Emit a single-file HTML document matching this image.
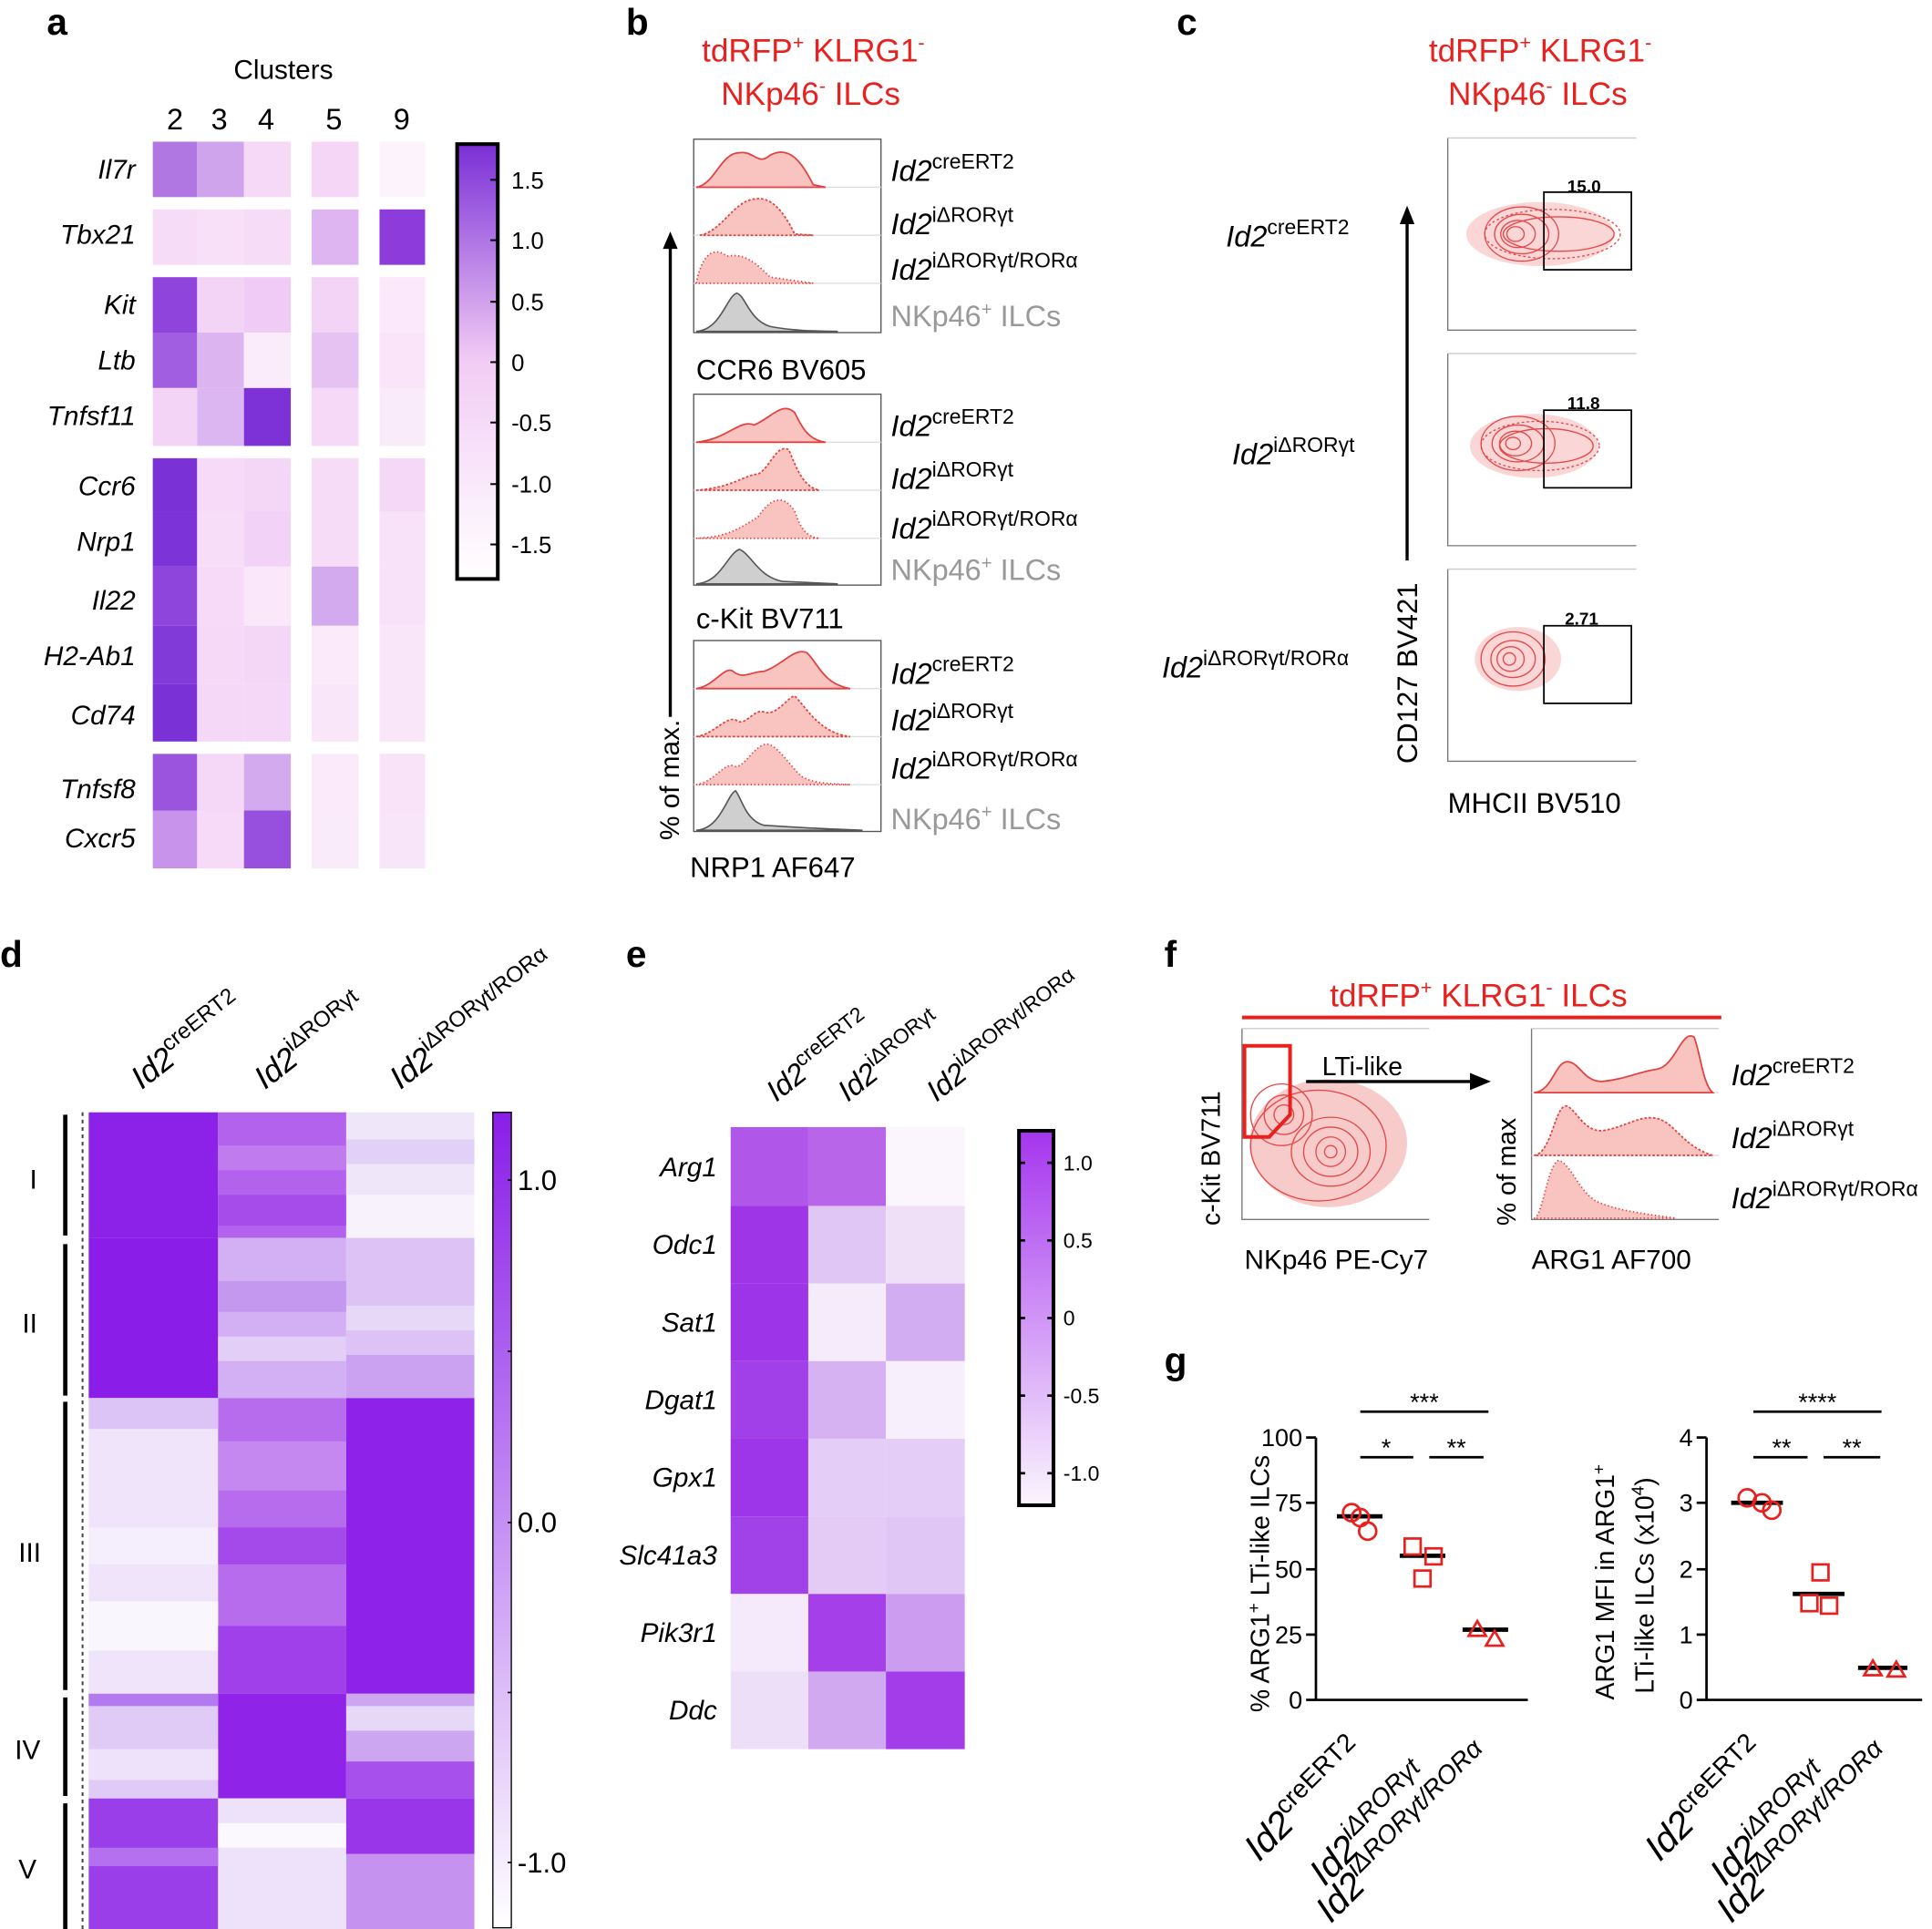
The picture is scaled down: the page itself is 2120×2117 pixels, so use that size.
<!DOCTYPE html>
<html><head><meta charset="utf-8"><style>
html,body{margin:0;padding:0;background:#fff}
svg{display:block}
text{font-family:"Liberation Sans",sans-serif}
.it{font-style:italic}
</style></head><body>
<svg width="2120" height="2117" viewBox="0 0 1568 1566" preserveAspectRatio="none" xmlns="http://www.w3.org/2000/svg">
<defs>
<linearGradient id="ga" x1="0" y1="0" x2="0" y2="1"><stop offset="0" stop-color="#7a2fd6"/><stop offset="0.5" stop-color="#f2ccf5"/><stop offset="1" stop-color="#fff"/></linearGradient>
<linearGradient id="gd" x1="0" y1="0" x2="0" y2="1"><stop offset="0" stop-color="#8a1ee8"/><stop offset="1" stop-color="#fff"/></linearGradient>
<linearGradient id="ge" x1="0" y1="0" x2="0" y2="1"><stop offset="0" stop-color="#a535ee"/><stop offset="1" stop-color="#fbf5fe"/></linearGradient>
</defs>
<g font-weight="bold" font-size="30">
<text x="38" y="28">a</text><text x="508" y="28">b</text><text x="955" y="28">c</text>
<text x="0" y="785">d</text><text x="508" y="785">e</text><text x="945" y="785">f</text><text x="945" y="1115">g</text>
</g>
<!-- panel a -->
<text x="230" y="64" font-size="22" text-anchor="middle">Clusters</text>
<g font-size="24" text-anchor="middle"><text x="142" y="105">2</text><text x="178" y="105">3</text><text x="216" y="105">4</text><text x="271" y="105">5</text><text x="326" y="105">9</text></g>
<g>
<rect x="124" y="115" width="36" height="45" fill="#b077e2"/><rect x="160" y="115" width="38" height="45" fill="#d0a4ec"/><rect x="198" y="115" width="38" height="45" fill="#f6d8f7"/><rect x="253" y="115" width="38" height="45" fill="#f6d6f7"/><rect x="308" y="115" width="37" height="45" fill="#fdf3fc"/>
<rect x="124" y="170" width="36" height="45" fill="#f7dcf8"/><rect x="160" y="170" width="38" height="45" fill="#f7e0f8"/><rect x="198" y="170" width="38" height="45" fill="#f6dcf7"/><rect x="253" y="170" width="38" height="45" fill="#deb5f0"/><rect x="308" y="170" width="37" height="45" fill="#8d3cdb"/>
<rect x="124" y="225" width="36" height="45" fill="#8f44dc"/><rect x="160" y="225" width="38" height="45" fill="#f3d3f6"/><rect x="198" y="225" width="38" height="45" fill="#efcbf5"/><rect x="253" y="225" width="38" height="45" fill="#f3d3f6"/><rect x="308" y="225" width="37" height="45" fill="#fbe8fa"/>
<rect x="124" y="270" width="36" height="45" fill="#a25ee0"/><rect x="160" y="270" width="38" height="45" fill="#dbb4f0"/><rect x="198" y="270" width="38" height="45" fill="#fbecfb"/><rect x="253" y="270" width="38" height="45" fill="#e6c2f3"/><rect x="308" y="270" width="37" height="45" fill="#f9e4f9"/>
<rect x="124" y="315" width="36" height="47" fill="#f3d3f6"/><rect x="160" y="315" width="38" height="47" fill="#dcb6f0"/><rect x="198" y="315" width="38" height="47" fill="#7c32d7"/><rect x="253" y="315" width="38" height="47" fill="#f6d9f7"/><rect x="308" y="315" width="37" height="47" fill="#faebfa"/>
<rect x="124" y="372" width="36" height="43" fill="#7a31d6"/><rect x="160" y="372" width="38" height="43" fill="#f6daf7"/><rect x="198" y="372" width="38" height="43" fill="#f4d7f7"/><rect x="253" y="372" width="38" height="43" fill="#f7dcf8"/><rect x="308" y="372" width="37" height="43" fill="#f5d8f7"/>
<rect x="124" y="415" width="36" height="45" fill="#7c33d7"/><rect x="160" y="415" width="38" height="45" fill="#f7ddf8"/><rect x="198" y="415" width="38" height="45" fill="#f2d2f6"/><rect x="253" y="415" width="38" height="45" fill="#f7dcf8"/><rect x="308" y="415" width="37" height="45" fill="#f8e2f9"/>
<rect x="124" y="460" width="36" height="48" fill="#8e45db"/><rect x="160" y="460" width="38" height="48" fill="#f6daf7"/><rect x="198" y="460" width="38" height="48" fill="#fae8fa"/><rect x="253" y="460" width="38" height="48" fill="#d4aaee"/><rect x="308" y="460" width="37" height="48" fill="#f8e2f9"/>
<rect x="124" y="508" width="36" height="47" fill="#8139d8"/><rect x="160" y="508" width="38" height="47" fill="#f5d9f7"/><rect x="198" y="508" width="38" height="47" fill="#f4d6f7"/><rect x="253" y="508" width="38" height="47" fill="#faeafa"/><rect x="308" y="508" width="37" height="47" fill="#f9e6f9"/>
<rect x="124" y="555" width="36" height="47" fill="#7a31d6"/><rect x="160" y="555" width="38" height="47" fill="#f5d8f7"/><rect x="198" y="555" width="38" height="47" fill="#f5d8f7"/><rect x="253" y="555" width="38" height="47" fill="#f9e6f9"/><rect x="308" y="555" width="37" height="47" fill="#f9e6f9"/>
<rect x="124" y="612" width="36" height="46" fill="#9a54de"/><rect x="160" y="612" width="38" height="46" fill="#f5d8f7"/><rect x="198" y="612" width="38" height="46" fill="#d4aaee"/><rect x="253" y="612" width="38" height="46" fill="#faeafa"/><rect x="308" y="612" width="37" height="46" fill="#f8e3f9"/>
<rect x="124" y="658" width="36" height="47" fill="#c893ea"/><rect x="160" y="658" width="38" height="47" fill="#f6daf7"/><rect x="198" y="658" width="38" height="47" fill="#9750dd"/><rect x="253" y="658" width="38" height="47" fill="#faebfa"/><rect x="308" y="658" width="37" height="47" fill="#f9e5f9"/>
</g>
<g font-size="22" class="it" text-anchor="end">
<text x="110" y="145">Il7r</text><text x="110" y="198">Tbx21</text><text x="110" y="255">Kit</text><text x="110" y="300">Ltb</text><text x="110" y="345">Tnfsf11</text>
<text x="110" y="402">Ccr6</text><text x="110" y="447">Nrp1</text><text x="110" y="495">Il22</text><text x="110" y="540">H2-Ab1</text><text x="110" y="588">Cd74</text>
<text x="110" y="648">Tnfsf8</text><text x="110" y="688">Cxcr5</text>
</g>
<rect x="371" y="117" width="33" height="353" fill="url(#ga)" stroke="#000" stroke-width="3"/>
<g font-size="19"><text x="415" y="153">1.5</text><text x="415" y="202">1.0</text><text x="415" y="252">0.5</text><text x="415" y="301">0</text><text x="415" y="350">-0.5</text><text x="415" y="400">-1.0</text><text x="415" y="449">-1.5</text></g>
<g stroke="#000" stroke-width="1.5"><line x1="398" y1="146" x2="404" y2="146"/><line x1="398" y1="195" x2="404" y2="195"/><line x1="398" y1="245" x2="404" y2="245"/><line x1="398" y1="294" x2="404" y2="294"/><line x1="398" y1="343" x2="404" y2="343"/><line x1="398" y1="393" x2="404" y2="393"/><line x1="398" y1="442" x2="404" y2="442"/></g>

<!-- panel b -->
<g fill="#e8201e" font-size="26" text-anchor="middle"><text x="660" y="50">tdRFP<tspan font-size="16" dy="-10">+</tspan><tspan dy="10"> KLRG1</tspan><tspan font-size="16" dy="-10">-</tspan></text><text x="658" y="85">NKp46<tspan font-size="16" dy="-10">-</tspan><tspan dy="10"> ILCs</tspan></text></g>
<g stroke="#555" stroke-width="1" fill="none">
<rect x="563" y="113" width="152" height="157"/><rect x="563" y="320" width="152" height="155"/><rect x="563" y="520" width="152" height="155"/>
</g>
<g stroke="#ddd" stroke-width="1"><line x1="563" y1="152" x2="715" y2="152"/><line x1="563" y1="191" x2="715" y2="191"/><line x1="563" y1="230" x2="715" y2="230"/>
<line x1="563" y1="359" x2="715" y2="359"/><line x1="563" y1="398" x2="715" y2="398"/><line x1="563" y1="437" x2="715" y2="437"/>
<line x1="563" y1="559" x2="715" y2="559"/><line x1="563" y1="598" x2="715" y2="598"/><line x1="563" y1="637" x2="715" y2="637"/></g>
<g fill="#f9c4c0" stroke="#e34040" stroke-width="1.3">
<path d="M565 152 C580 150 585 124 600 124 C612 122 615 135 625 126 C640 118 650 130 660 150 L670 152 Z"/>
<path d="M568 191 C585 188 595 165 610 162 C625 158 635 170 645 190 L660 191 Z" stroke-dasharray="2,1.5"/>
<path d="M565 230 C570 205 580 200 590 208 C605 205 615 215 625 225 L660 230 Z" stroke-dasharray="1,2"/>
<path d="M565 359 C590 357 600 340 612 345 C625 340 635 325 645 335 C650 345 655 357 670 359 Z"/>
<path d="M565 398 C595 396 605 385 615 385 C625 380 630 360 640 365 C645 375 650 395 665 398 Z" stroke-dasharray="2,1.5"/>
<path d="M565 437 C595 436 605 425 615 420 C625 405 635 400 645 415 C650 430 655 436 665 437 Z" stroke-dasharray="1,2"/>
<path d="M565 559 C580 557 588 540 595 545 C603 552 610 545 620 545 C635 540 645 525 655 530 C665 540 668 555 690 559 Z"/>
<path d="M565 598 C580 596 590 580 598 585 C605 590 612 575 620 578 C630 582 640 565 645 565 C655 575 665 595 690 598 Z" stroke-dasharray="2,1.5"/>
<path d="M565 637 C580 635 588 618 596 622 C603 625 612 605 622 604 C630 604 640 620 650 630 C660 636 670 636 690 637 Z" stroke-dasharray="1,2"/>
</g>
<g fill="#cfcfcf" stroke="#555" stroke-width="1.2">
<path d="M565 269 C585 268 590 240 598 238 C605 240 608 260 625 265 C640 268 660 269 680 269 Z"/>
<path d="M565 474 C585 473 590 450 600 446 C610 450 615 468 635 472 L680 474 Z"/>
<path d="M565 674 C585 673 590 645 597 642 C602 648 605 666 620 670 C650 672 670 673 700 674 Z"/>
</g>
<g font-size="24"><g fill="#000">
<text x="723" y="147" class="it">Id2<tspan font-size="17" dy="-10" font-style="normal">creERT2</tspan></text>
<text x="723" y="190" class="it">Id2<tspan font-size="17" dy="-10" font-style="normal">iΔRORγt</tspan></text>
<text x="723" y="227" class="it">Id2<tspan font-size="17" dy="-10" font-style="normal">iΔRORγt/RORα</tspan></text>
<text x="723" y="354" class="it">Id2<tspan font-size="17" dy="-10" font-style="normal">creERT2</tspan></text>
<text x="723" y="397" class="it">Id2<tspan font-size="17" dy="-10" font-style="normal">iΔRORγt</tspan></text>
<text x="723" y="437" class="it">Id2<tspan font-size="17" dy="-10" font-style="normal">iΔRORγt/RORα</tspan></text>
<text x="723" y="555" class="it">Id2<tspan font-size="17" dy="-10" font-style="normal">creERT2</tspan></text>
<text x="723" y="593" class="it">Id2<tspan font-size="17" dy="-10" font-style="normal">iΔRORγt</tspan></text>
<text x="723" y="632" class="it">Id2<tspan font-size="17" dy="-10" font-style="normal">iΔRORγt/RORα</tspan></text>
</g><g fill="#999">
<text x="723" y="265">NKp46<tspan font-size="15" dy="-9">+</tspan><tspan dy="9"> ILCs</tspan></text>
<text x="723" y="471">NKp46<tspan font-size="15" dy="-9">+</tspan><tspan dy="9"> ILCs</tspan></text>
<text x="723" y="673">NKp46<tspan font-size="15" dy="-9">+</tspan><tspan dy="9"> ILCs</tspan></text>
</g>
<text x="565" y="308" font-size="23">CCR6 BV605</text><text x="565" y="510" font-size="23">c-Kit BV711</text><text x="560" y="712" font-size="23">NRP1 AF647</text>
<text transform="translate(551,682) rotate(-90)" font-size="22">% of max.</text>
</g>
<line x1="544" y1="582" x2="544" y2="200" stroke="#000" stroke-width="2.5"/><path d="M538 202 L544 188 L550 202 Z"/>

<!-- panel c -->
<g fill="#e8201e" font-size="26" text-anchor="middle"><text x="1250" y="50">tdRFP<tspan font-size="16" dy="-10">+</tspan><tspan dy="10"> KLRG1</tspan><tspan font-size="16" dy="-10">-</tspan></text><text x="1248" y="85">NKp46<tspan font-size="16" dy="-10">-</tspan><tspan dy="10"> ILCs</tspan></text></g>
<g stroke="#777" stroke-width="1" fill="none"><path d="M1175 112 V268 H1328"/><path d="M1175 287 V443 H1328"/><path d="M1175 462 V618 H1328"/>
<line x1="1175" y1="112" x2="1328" y2="112" stroke="#ccc"/><line x1="1175" y1="287" x2="1328" y2="287" stroke="#ccc"/><line x1="1175" y1="462" x2="1328" y2="462" stroke="#ccc"/></g>
<g fill="#fbd6d6">
<ellipse cx="1250" cy="190" rx="60" ry="26"/><ellipse cx="1245" cy="362" rx="52" ry="26"/><ellipse cx="1232" cy="535" rx="35" ry="26"/>
</g>
<g fill="none" stroke="#e64848" stroke-width="1">
<ellipse cx="1235" cy="190" rx="30" ry="22"/><ellipse cx="1235" cy="190" rx="22" ry="16"/><ellipse cx="1232" cy="190" rx="14" ry="11"/><ellipse cx="1230" cy="190" rx="7" ry="6"/><ellipse cx="1265" cy="190" rx="45" ry="14"/><ellipse cx="1260" cy="190" rx="55" ry="20" stroke-dasharray="2,2"/>
<ellipse cx="1232" cy="360" rx="30" ry="22"/><ellipse cx="1232" cy="360" rx="21" ry="15"/><ellipse cx="1230" cy="360" rx="13" ry="10"/><ellipse cx="1228" cy="360" rx="6" ry="5"/><ellipse cx="1255" cy="362" rx="38" ry="14"/><ellipse cx="1250" cy="362" rx="48" ry="20" stroke-dasharray="2,2"/>
<ellipse cx="1228" cy="535" rx="26" ry="22"/><ellipse cx="1228" cy="535" rx="18" ry="15"/><ellipse cx="1226" cy="535" rx="11" ry="10"/><ellipse cx="1225" cy="535" rx="5" ry="5"/>
</g>
<g fill="none" stroke="#000" stroke-width="1.3"><rect x="1253" y="156" width="71" height="63"/><rect x="1253" y="333" width="71" height="63"/><rect x="1253" y="508" width="71" height="63"/></g>
<g font-size="14" font-weight="bold"><text x="1272" y="156">15.0</text><text x="1272" y="332">11.8</text><text x="1270" y="507">2.71</text></g>
<g font-size="24" class="it">
<text x="995" y="200">Id2<tspan font-size="17" dy="-10" font-style="normal">creERT2</tspan></text>
<text x="1000" y="377">Id2<tspan font-size="17" dy="-10" font-style="normal">iΔRORγt</tspan></text>
<text x="943" y="550">Id2<tspan font-size="17" dy="-10" font-style="normal">iΔRORγt/RORα</tspan></text>
</g>
<line x1="1142" y1="455" x2="1142" y2="180" stroke="#000" stroke-width="2.5"/><path d="M1136 182 L1142 167 L1148 182 Z"/>
<text transform="translate(1150,620) rotate(-90)" font-size="23">CD127 BV421</text>
<text x="1175" y="660" font-size="23">MHCII BV510</text>

<!-- panel d -->
<g font-size="26" class="it">
<text transform="translate(115,885) rotate(-38)">Id2<tspan font-size="18" dy="-11" font-style="normal">creERT2</tspan></text>
<text transform="translate(215,885) rotate(-38)">Id2<tspan font-size="18" dy="-11" font-style="normal">iΔRORγt</tspan></text>
<text transform="translate(325,885) rotate(-38)">Id2<tspan font-size="18" dy="-11" font-style="normal">iΔRORγt/RORα</tspan></text>
</g>
<g>
<rect x="72" y="903" width="105" height="102" fill="#8c22e8"/><rect x="177" y="903" width="104" height="102" fill="#b262ed"/><rect x="281" y="903" width="104" height="102" fill="#f0e6fa"/>
<rect x="177" y="930" width="104" height="20" fill="#c07cef"/><rect x="177" y="970" width="104" height="25" fill="#a64ceb"/><rect x="281" y="925" width="104" height="20" fill="#e2d0f6"/><rect x="281" y="970" width="104" height="35" fill="#f8f2fd"/>
<rect x="72" y="1005" width="105" height="130" fill="#8a1ee8"/><rect x="177" y="1005" width="104" height="130" fill="#d2b0f3"/><rect x="281" y="1005" width="104" height="130" fill="#dcc2f5"/>
<rect x="177" y="1040" width="104" height="25" fill="#c598f0"/><rect x="177" y="1085" width="104" height="20" fill="#e2cef7"/><rect x="281" y="1060" width="104" height="20" fill="#e8d8f8"/><rect x="281" y="1100" width="104" height="35" fill="#cba2f1"/>
<rect x="72" y="1135" width="105" height="240" fill="#efe4fa"/><rect x="177" y="1135" width="104" height="240" fill="#b76cee"/><rect x="281" y="1135" width="104" height="240" fill="#8e22e8"/>
<rect x="72" y="1135" width="105" height="25" fill="#dcc5f6"/><rect x="72" y="1240" width="105" height="30" fill="#f5eefc"/><rect x="72" y="1300" width="105" height="40" fill="#faf6fe"/><rect x="177" y="1240" width="104" height="30" fill="#a44aeb"/><rect x="177" y="1320" width="104" height="55" fill="#a040ea"/><rect x="177" y="1170" width="104" height="40" fill="#c488f0"/>
<rect x="72" y="1375" width="105" height="85" fill="#e0caf6"/><rect x="177" y="1375" width="104" height="85" fill="#8f24e8"/><rect x="281" y="1375" width="104" height="85" fill="#cda6f2"/>
<rect x="72" y="1375" width="105" height="10" fill="#b27aee"/><rect x="72" y="1420" width="105" height="25" fill="#eee2fa"/><rect x="281" y="1385" width="104" height="20" fill="#e8d8f8"/><rect x="281" y="1430" width="104" height="30" fill="#a850ec"/>
<rect x="72" y="1460" width="105" height="106" fill="#9a3eea"/><rect x="177" y="1460" width="104" height="106" fill="#ede2f9"/><rect x="281" y="1460" width="104" height="106" fill="#c592f0"/>
<rect x="72" y="1500" width="105" height="15" fill="#b470ee"/><rect x="177" y="1480" width="104" height="20" fill="#fbf8fe"/><rect x="281" y="1460" width="104" height="45" fill="#9a36ea"/>
</g>
<g stroke="#000" stroke-width="3.5"><line x1="53" y1="905" x2="53" y2="1003"/><line x1="53" y1="1010" x2="53" y2="1133"/><line x1="53" y1="1138" x2="53" y2="1372"/><line x1="53" y1="1378" x2="53" y2="1458"/><line x1="53" y1="1464" x2="53" y2="1566"/></g>
<line x1="67" y1="903" x2="67" y2="1566" stroke="#444" stroke-width="1.5" stroke-dasharray="3,3"/>
<g font-size="22"><text x="24" y="965">I</text><text x="18" y="1082">II</text><text x="15" y="1268">III</text><text x="12" y="1428">IV</text><text x="15" y="1525">V</text></g>
<rect x="400" y="903" width="15" height="662" fill="url(#gd)" stroke="#000" stroke-width="1"/>
<g stroke="#000" stroke-width="1.2"><line x1="412" y1="958" x2="415" y2="958"/><line x1="412" y1="1097" x2="415" y2="1097"/><line x1="412" y1="1236" x2="415" y2="1236"/><line x1="412" y1="1374" x2="415" y2="1374"/><line x1="412" y1="1512" x2="415" y2="1512"/></g>
<g font-size="23"><text x="420" y="966">1.0</text><text x="420" y="1244">0.0</text><text x="420" y="1520">-1.0</text></g>

<!-- panel e -->
<g font-size="24" class="it">
<text transform="translate(630,895) rotate(-38)">Id2<tspan font-size="17" dy="-10" font-style="normal">creERT2</tspan></text>
<text transform="translate(688,895) rotate(-38)">Id2<tspan font-size="17" dy="-10" font-style="normal">iΔRORγt</tspan></text>
<text transform="translate(760,895) rotate(-38)">Id2<tspan font-size="17" dy="-10" font-style="normal">iΔRORγt/RORα</tspan></text>
</g>
<g>
<rect x="593" y="915" width="63" height="64" fill="#b056e8"/><rect x="656" y="915" width="63" height="64" fill="#b865ea"/><rect x="719" y="915" width="64" height="64" fill="#fbf5fd"/>
<rect x="593" y="979" width="63" height="63" fill="#9e36e8"/><rect x="656" y="979" width="63" height="63" fill="#e0c6f4"/><rect x="719" y="979" width="64" height="63" fill="#efe0f8"/>
<rect x="593" y="1042" width="63" height="63" fill="#9d34e8"/><rect x="656" y="1042" width="63" height="63" fill="#f5ebfb"/><rect x="719" y="1042" width="64" height="63" fill="#d3adf1"/>
<rect x="593" y="1105" width="63" height="63" fill="#a140e8"/><rect x="656" y="1105" width="63" height="63" fill="#d6b2f2"/><rect x="719" y="1105" width="64" height="63" fill="#f7effb"/>
<rect x="593" y="1168" width="63" height="63" fill="#9d36e8"/><rect x="656" y="1168" width="63" height="63" fill="#e4cdf6"/><rect x="719" y="1168" width="64" height="63" fill="#e4cdf6"/>
<rect x="593" y="1231" width="63" height="63" fill="#a042e8"/><rect x="656" y="1231" width="63" height="63" fill="#e3cbf6"/><rect x="719" y="1231" width="64" height="63" fill="#e0c6f5"/>
<rect x="593" y="1294" width="63" height="63" fill="#f4eafb"/><rect x="656" y="1294" width="63" height="63" fill="#a43fe9"/><rect x="719" y="1294" width="64" height="63" fill="#cc9cf0"/>
<rect x="593" y="1357" width="63" height="63" fill="#eedff9"/><rect x="656" y="1357" width="63" height="63" fill="#d1a9f1"/><rect x="719" y="1357" width="64" height="63" fill="#a33ce9"/>
</g>
<g font-size="22" class="it" text-anchor="end">
<text x="582" y="955">Arg1</text><text x="582" y="1018">Odc1</text><text x="582" y="1081">Sat1</text><text x="582" y="1144">Dgat1</text><text x="582" y="1207">Gpx1</text><text x="582" y="1270">Slc41a3</text><text x="582" y="1333">Pik3r1</text><text x="582" y="1396">Ddc</text>
</g>
<rect x="827" y="918" width="28" height="304" fill="url(#ge)" stroke="#000" stroke-width="3"/>
<g stroke="#000" stroke-width="2"><line x1="827" y1="944" x2="832" y2="944"/><line x1="850" y1="944" x2="855" y2="944"/><line x1="827" y1="1007" x2="832" y2="1007"/><line x1="850" y1="1007" x2="855" y2="1007"/><line x1="827" y1="1070" x2="832" y2="1070"/><line x1="850" y1="1070" x2="855" y2="1070"/><line x1="827" y1="1133" x2="832" y2="1133"/><line x1="850" y1="1133" x2="855" y2="1133"/><line x1="827" y1="1196" x2="832" y2="1196"/><line x1="850" y1="1196" x2="855" y2="1196"/></g>
<g font-size="17"><text x="863" y="950">1.0</text><text x="863" y="1013">0.5</text><text x="863" y="1076">0</text><text x="863" y="1139">-0.5</text><text x="863" y="1202">-1.0</text></g>

<!-- panel f -->
<text x="1200" y="817" font-size="26" fill="#e8201e" text-anchor="middle">tdRFP<tspan font-size="16" dy="-10">+</tspan><tspan dy="10"> KLRG1</tspan><tspan font-size="16" dy="-10">-</tspan><tspan dy="10"> ILCs</tspan></text>
<line x1="1008" y1="826" x2="1397" y2="826" stroke="#e8201e" stroke-width="3"/>
<g stroke="#777" fill="none"><path d="M1008 835 V990 H1160"/><line x1="1008" y1="835" x2="1160" y2="835" stroke="#ccc"/><path d="M1243 835 V990 H1395"/><line x1="1243" y1="835" x2="1395" y2="835" stroke="#ccc"/></g>
<ellipse cx="1078" cy="928" rx="64" ry="52" fill="#f4a8a8" opacity="0.6"/>
<g fill="none" stroke="#e64848" stroke-width="1">
<ellipse cx="1040" cy="905" rx="25" ry="25"/><ellipse cx="1042" cy="905" rx="16" ry="16"/><ellipse cx="1042" cy="905" rx="8" ry="8"/>
<ellipse cx="1080" cy="935" rx="32" ry="28"/><ellipse cx="1080" cy="935" rx="22" ry="20"/><ellipse cx="1080" cy="935" rx="12" ry="12"/><ellipse cx="1080" cy="935" rx="5" ry="5"/>
<ellipse cx="1070" cy="930" rx="55" ry="45"/>
</g>
<path d="M1010 849 H1047 V905 L1030 923 H1010 Z" fill="none" stroke="#e8201e" stroke-width="3"/>
<line x1="1060" y1="878" x2="1195" y2="878" stroke="#000" stroke-width="2.5"/><path d="M1193 871 L1210 878 L1193 885 Z"/>
<text x="1073" y="873" font-size="21">LTi-like</text>
<text transform="translate(990,995) rotate(-90)" font-size="21">c-Kit BV711</text>
<text x="1010" y="1030" font-size="22">NKp46 PE-Cy7</text>
<g stroke="#ddd"><line x1="1243" y1="887" x2="1395" y2="887"/><line x1="1243" y1="938" x2="1395" y2="938"/></g>
<g fill="#f9c4c0" stroke="#e34040" stroke-width="1.3">
<path d="M1245 887 C1260 886 1262 862 1272 862 C1282 862 1285 878 1300 878 C1320 876 1330 870 1345 868 C1360 865 1365 835 1375 842 C1380 855 1382 880 1390 887 Z"/>
<path d="M1245 938 C1260 936 1262 895 1272 898 C1280 902 1285 918 1300 918 C1320 915 1330 905 1345 908 C1360 912 1365 930 1390 938 Z" stroke-dasharray="2,1.5"/>
<path d="M1245 989 C1252 988 1256 945 1265 942 C1275 945 1280 965 1295 975 C1310 982 1330 985 1360 989 Z" stroke-dasharray="1,2"/>
</g>
<g font-size="24" class="it">
<text x="1405" y="881">Id2<tspan font-size="17" dy="-10" font-style="normal">creERT2</tspan></text>
<text x="1405" y="932">Id2<tspan font-size="17" dy="-10" font-style="normal">iΔRORγt</tspan></text>
<text x="1405" y="981">Id2<tspan font-size="17" dy="-10" font-style="normal">iΔRORγt/RORα</tspan></text>
</g>
<text transform="translate(1230,995) rotate(-90)" font-size="21">% of max</text>
<text x="1243" y="1030" font-size="22">ARG1 AF700</text>

<!-- panel g left -->
<g stroke="#000" stroke-width="2" fill="none">
<path d="M1068 1167 V1380 H1240"/>
<line x1="1060" y1="1167" x2="1068" y2="1167"/><line x1="1060" y1="1220" x2="1068" y2="1220"/><line x1="1060" y1="1274" x2="1068" y2="1274"/><line x1="1060" y1="1327" x2="1068" y2="1327"/><line x1="1060" y1="1380" x2="1068" y2="1380"/>
<line x1="1104" y1="1146" x2="1208" y2="1146"/><line x1="1104" y1="1183" x2="1147" y2="1183"/><line x1="1160" y1="1183" x2="1204" y2="1183"/>
<line x1="1085" y1="1231" x2="1122" y2="1231" stroke-width="3.5"/><line x1="1136" y1="1263" x2="1173" y2="1263" stroke-width="3.5"/><line x1="1187" y1="1323" x2="1224" y2="1323" stroke-width="3.5"/>
</g>
<g stroke="#e8201e" stroke-width="2" fill="none">
<circle cx="1097" cy="1228" r="7"/><circle cx="1110" cy="1243" r="7"/><circle cx="1104" cy="1232" r="7"/>
<rect x="1140" y="1249" width="13" height="13"/><rect x="1148" y="1275" width="13" height="13"/><rect x="1157" y="1257" width="13" height="13"/>
<path d="M1192 1328 L1199 1316 L1206 1328 Z"/><path d="M1206 1336 L1213 1324 L1220 1336 Z"/>
</g>
<g font-size="20" text-anchor="end"><text x="1057" y="1174">100</text><text x="1057" y="1227">75</text><text x="1057" y="1281">50</text><text x="1057" y="1334">25</text><text x="1057" y="1387">0</text></g>
<g font-size="20" text-anchor="middle"><text x="1156" y="1145">***</text><text x="1125" y="1182">*</text><text x="1182" y="1182">**</text></g>
<text transform="translate(1030,1390) rotate(-90)" font-size="21">% ARG1<tspan font-size="14" dy="-8">+</tspan><tspan dy="8"> LTi-like ILCs</tspan></text>
<!-- panel g right -->
<g stroke="#000" stroke-width="2" fill="none">
<path d="M1385 1167 V1380 H1560"/>
<line x1="1377" y1="1167" x2="1385" y2="1167"/><line x1="1377" y1="1220" x2="1385" y2="1220"/><line x1="1377" y1="1274" x2="1385" y2="1274"/><line x1="1377" y1="1327" x2="1385" y2="1327"/><line x1="1377" y1="1380" x2="1385" y2="1380"/>
<line x1="1423" y1="1146" x2="1527" y2="1146"/><line x1="1423" y1="1183" x2="1467" y2="1183"/><line x1="1480" y1="1183" x2="1526" y2="1183"/>
<line x1="1405" y1="1220" x2="1447" y2="1220" stroke-width="3.5"/><line x1="1455" y1="1294" x2="1497" y2="1294" stroke-width="3.5"/><line x1="1508" y1="1354" x2="1548" y2="1354" stroke-width="3.5"/>
</g>
<g stroke="#e8201e" stroke-width="2" fill="none">
<circle cx="1418" cy="1216" r="7"/><circle cx="1430" cy="1220" r="7"/><circle cx="1438" cy="1226" r="7"/>
<rect x="1462" y="1295" width="13" height="13"/><rect x="1471" y="1270" width="13" height="13"/><rect x="1478" y="1297" width="13" height="13"/>
<path d="M1513 1360 L1520 1348 L1527 1360 Z"/><path d="M1532 1361 L1539 1349 L1546 1361 Z"/>
</g>
<g font-size="20" text-anchor="end"><text x="1374" y="1174">4</text><text x="1374" y="1227">3</text><text x="1374" y="1281">2</text><text x="1374" y="1334">1</text><text x="1374" y="1387">0</text></g>
<g font-size="20" text-anchor="middle"><text x="1475" y="1145">****</text><text x="1446" y="1182">**</text><text x="1503" y="1182">**</text></g>
<text transform="translate(1310,1380) rotate(-90)" font-size="21">ARG1 MFI in ARG1<tspan font-size="14" dy="-8">+</tspan></text>
<text transform="translate(1342,1375) rotate(-90)" font-size="21">LTi-like ILCs (x10<tspan font-size="14" dy="-8">4</tspan><tspan dy="8">)</tspan></text>
<g font-size="30" class="it">
<text transform="translate(1022,1512) rotate(-45)">Id2<tspan font-size="21" dy="-12" font-style="normal">creERT2</tspan></text>
<text transform="translate(1075,1532) rotate(-45)">Id2<tspan font-size="21" dy="-12">iΔRORγt</tspan></text>
<text transform="translate(1080,1562) rotate(-45)">Id2<tspan font-size="21" dy="-12">iΔRORγt/RORα</tspan></text>
<text transform="translate(1347,1512) rotate(-45)">Id2<tspan font-size="21" dy="-12" font-style="normal">creERT2</tspan></text>
<text transform="translate(1400,1532) rotate(-45)">Id2<tspan font-size="21" dy="-12">iΔRORγt</tspan></text>
<text transform="translate(1405,1562) rotate(-45)">Id2<tspan font-size="21" dy="-12">iΔRORγt/RORα</tspan></text>
</g>
</svg>
</body></html>
